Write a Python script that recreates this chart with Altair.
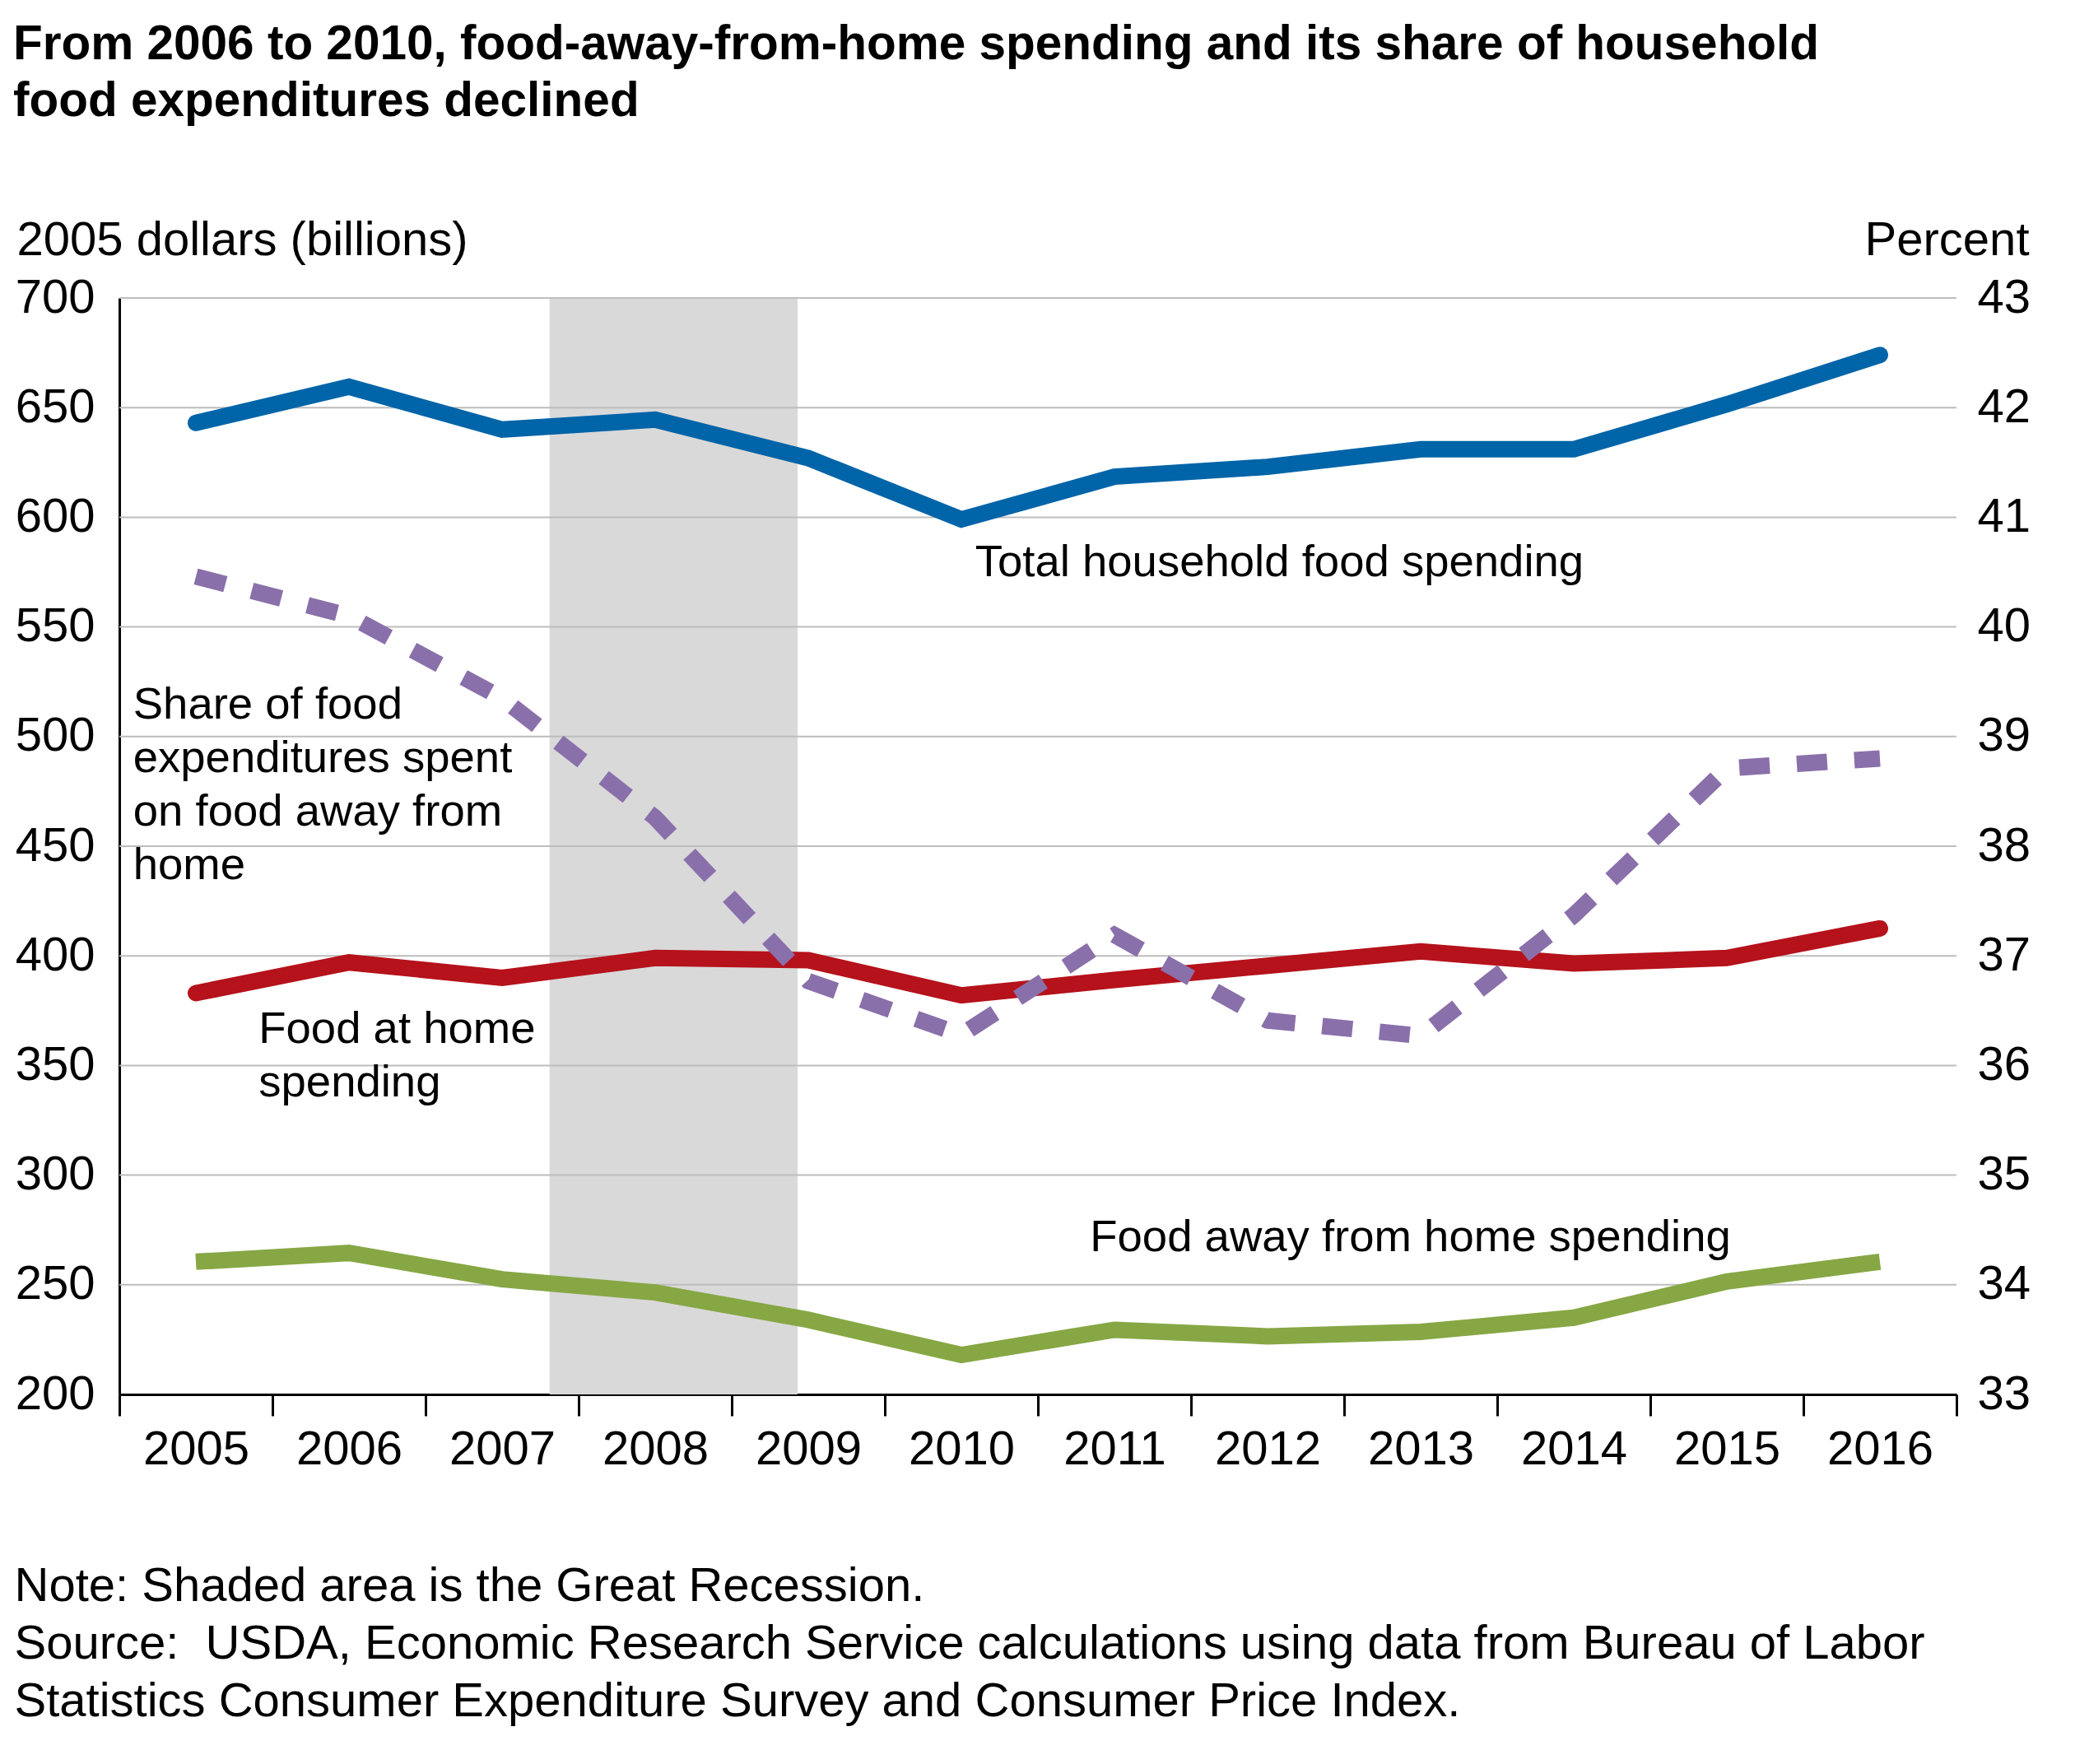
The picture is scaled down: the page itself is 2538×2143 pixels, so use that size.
import altair as alt
import pandas as pd

# ---- data ----
YEARS = [2005, 2006, 2007, 2008, 2009, 2010, 2011, 2012, 2013, 2014, 2015, 2016]
TOTAL = [643, 659.5, 640, 644.5, 627, 599, 618.5, 623, 631, 631, 651.5, 674]
AT_HOME = [383, 397, 390, 399, 398, 382, 389, 395.5, 402, 396.5, 399, 412.5]
AWAY = [260.5, 264.5, 252.5, 246.5, 234, 218, 229.5, 226.5, 228.5, 235, 251.5, 260.5]
SHARE = [40.46, 40.1, 39.35, 38.26, 36.77, 36.28, 37.19, 36.41, 36.27, 37.37, 38.71, 38.8]

RECESSION_START = 2007.31
RECESSION_END = 2008.93

LEFT_TICKS = [200, 250, 300, 350, 400, 450, 500, 550, 600, 650, 700]
RIGHT_TICKS = [33, 34, 35, 36, 37, 38, 39, 40, 41, 42, 43]
GRID_VALUES = [250, 300, 350, 400, 450, 500, 550, 600, 650, 700]
X_BOUNDARIES = [y - 0.5 for y in YEARS] + [YEARS[-1] + 0.5]

ANN_TEXT = [
    "Total household food spending",
    "Share of food\nexpenditures spent\non food away from\nhome",
    "Food at home\nspending",
    "Food away from home spending",
]
ANN_X = [2010.09, 2004.59, 2005.41, 2010.84]
ANN_Y = [573.1, 508.2, 360.3, 265.5]

TITLE = ["From 2006 to 2010, food-away-from-home spending and its share of household",
         "food expenditures declined"]
NOTES = ["Note: Shaded area is the Great Recession.",
         "Source:\u00a0 USDA, Economic Research Service calculations using data from Bureau of Labor",
         "Statistics Consumer Expenditure Survey and Consumer Price Index."]

FONT = "Liberation Sans"
W, H = 2232, 1332
FS = 58
ANN_FS = 54.5

df = pd.DataFrame({"year": YEARS, "total": TOTAL, "home": AT_HOME, "away": AWAY, "share": SHARE})
shade_df = pd.DataFrame({"start": [RECESSION_START], "end": [RECESSION_END]})
grid_df = pd.DataFrame({"v": GRID_VALUES})
ann_df = pd.DataFrame({"label": ANN_TEXT, "x": ANN_X, "y": ANN_Y})

x_scale = alt.Scale(domain=[2004.5, 2016.5], nice=False, zero=False)
x_axis = alt.Axis(
    values=X_BOUNDARIES,
    labelExpr="datum.value > 2016 ? '' : format(datum.value + 0.5, 'd')",
    labelOffset=W / 24, labelFlush=False, labelOverlap=False,
    ticks=True, tickSize=26, tickWidth=3, tickColor="black",
    domain=True, domainColor="black", domainWidth=3, grid=False,
    labelFontSize=FS, labelPadding=12, labelColor="black", labelFont=FONT,
    title=NOTES, titleX=-128, titleY=250, titleAlign="left", titleAnchor="start",
    titleBaseline="alphabetic", titleFontWeight="normal", titleFontSize=FS,
    titleLineHeight=70, titleFont=FONT, titleColor="black",
)
left_scale = alt.Scale(domain=[200, 700], nice=False, zero=False)
left_axis = alt.Axis(
    values=LEFT_TICKS, grid=False, ticks=False, tickSize=0,
    domain=True, domainColor="black", domainWidth=3,
    labelPadding=30, labelFontSize=FS, labelColor="black", labelFont=FONT,
    title="2005 dollars (billions)", titleAngle=0, titleX=-125, titleY=-53,
    titleAlign="left", titleBaseline="alphabetic", titleFontWeight="normal",
    titleFontSize=FS, titleFont=FONT, titleColor="black",
)
right_scale = alt.Scale(domain=[33, 43], nice=False, zero=False)
right_axis = alt.Axis(
    orient="right", values=RIGHT_TICKS, grid=False, ticks=False, tickSize=0,
    domain=False, labelPadding=25, labelFontSize=FS, labelColor="black", labelFont=FONT,
    title="Percent", titleAngle=0, titleX=88, titleY=-53,
    titleAlign="right", titleBaseline="alphabetic", titleFontWeight="normal",
    titleFontSize=FS, titleFont=FONT, titleColor="black",
)

X = lambda f: alt.X(f, type="quantitative", scale=x_scale, axis=x_axis)
YL = lambda f: alt.Y(f, type="quantitative", scale=left_scale, axis=left_axis)

shade = alt.Chart(shade_df).mark_rect(color="#D9D9D9").encode(
    x=X("start"), x2="end", y=alt.datum(700, scale=left_scale, axis=left_axis), y2=alt.datum(200)
)
grid = alt.Chart(grid_df).mark_rule(color="#BDBDBD", strokeWidth=2).encode(y=YL("v"))

blue = alt.Chart(df).mark_line(color="#0064A8", strokeWidth=20, strokeCap="round", strokeJoin="miter").encode(
    x=X("year"), y=YL("total"))
red = alt.Chart(df).mark_line(color="#B5121B", strokeWidth=20, strokeCap="round", strokeJoin="miter").encode(
    x=X("year"), y=YL("home"))
green = alt.Chart(df).mark_line(color="#86A744", strokeWidth=20, strokeCap="butt", strokeJoin="miter").encode(
    x=X("year"), y=YL("away"))
texts = alt.Chart(ann_df).mark_text(
    align="left", baseline="alphabetic", fontSize=ANN_FS, font=FONT, color="black",
    lineBreak="\n", lineHeight=65,
).encode(x=X("x"), y=YL("y"), text="label:N")

purple = alt.Chart(df).mark_line(color="#8A70AA", strokeWidth=20, strokeDash=[37, 33],
                                 strokeCap="butt", strokeJoin="miter").encode(
    x=X("year"), y=alt.Y("share", type="quantitative", scale=right_scale, axis=right_axis))

left = alt.layer(shade, grid, blue, red, green, texts)
chart = alt.layer(left, purple).resolve_scale(y="independent").properties(
    width=W, height=H,
    padding={"left": 8, "top": 16, "right": 10, "bottom": 10},
    title=alt.TitleParams(TITLE, anchor="start", frame="group", dx=-129, font=FONT,
                          fontSize=58.5, fontWeight="bold", lineHeight=69, color="black",
                          offset=110),
    background="white",
).configure_view(stroke=None)

chart.save("out.html", embed_options={"renderer": "svg", "actions": False})
